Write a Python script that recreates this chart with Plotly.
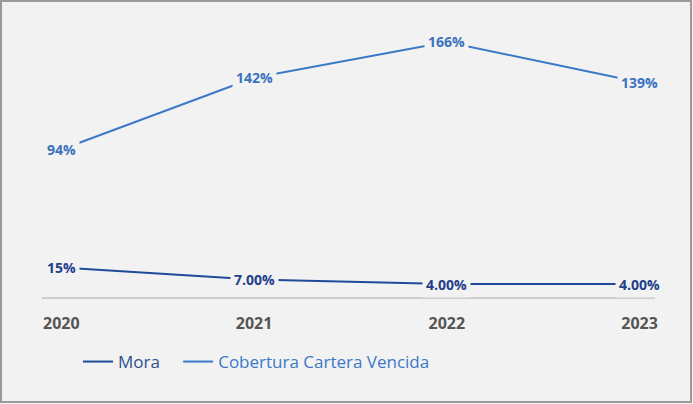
import plotly.graph_objects as go

years = ["2020", "2021", "2022", "2023"]
mora = [15, 7, 4, 4]
mora_labels = ["15%", "7.00%", "4.00%", "4.00%"]
cobertura = [94, 142, 166, 139]
cobertura_labels = ["94%", "142%", "166%", "139%"]

C_MORA = "#1f4a9a"
C_COB = "#3b78c8"
BG = "#f2f2f2"
FONT = "Open Sans"

W, H = 693, 404
L, R, T, B = 42, 38, 20, 106
pw, ph = W - L - R, H - T - B

xs = list(range(len(years)))

fig = go.Figure()
fig.add_trace(go.Scatter(x=xs, y=mora, mode="lines",
                         name="<span style='color:#2f4f8f'>Mora</span>&nbsp;&nbsp;&nbsp;",
                         line=dict(color=C_MORA, width=2)))
fig.add_trace(go.Scatter(x=xs, y=cobertura, mode="lines",
                         name=f"<span style='color:{C_COB}'>Cobertura Cartera Vencida</span>",
                         line=dict(color=C_COB, width=2)))

for xi, v, lab in zip(xs, mora, mora_labels):
    fig.add_annotation(x=xi, y=v, text=f"<b>{lab}</b>", showarrow=False,
                       font=dict(family=FONT, size=14, color="#23408a"),
                       bgcolor=BG, borderpad=3, xanchor="center", yanchor="middle")
for xi, v, lab in zip(xs, cobertura, cobertura_labels):
    fig.add_annotation(x=xi, y=v, text=f"<b>{lab}</b>", showarrow=False,
                       font=dict(family=FONT, size=14, color="#3a72c0"),
                       bgcolor=BG, borderpad=3, xanchor="center", yanchor="middle")

def px_x(p):
    return (p - L) / pw
def px_y(p):
    return (H - B - p) / ph

fig.add_shape(type="rect", xref="paper", yref="paper",
              x0=px_x(1), x1=px_x(691), y0=px_y(402), y1=px_y(1),
              line=dict(color="#9a9a9a", width=2), layer="below")

fig.update_layout(
    width=W, height=H,
    margin=dict(l=L, r=R, t=T, b=B),
    paper_bgcolor=BG, plot_bgcolor=BG,
    font=dict(family=FONT, size=14, color="#555555"),
    showlegend=True,
    legend=dict(orientation="h", x=px_x(78), y=px_y(362), xanchor="left", yanchor="middle",
                font=dict(family=FONT, size=17), bgcolor="rgba(0,0,0,0)",
                itemwidth=30, tracegroupgap=0),
)
fig.update_xaxes(range=[-0.1, 3.08], tickmode="array", tickvals=xs,
                 ticktext=[f"<b>{y}</b>" for y in years],
                 showgrid=False, zeroline=False, showline=False,
                 tickfont=dict(family=FONT, size=16, color="#555555"),
                 ticks="", ticklen=0, ticklabelstandoff=14)
fig.update_yaxes(range=[-5.35, 180.7], showgrid=False, zeroline=False,
                 showticklabels=False, showline=False)
fig.add_shape(type="line", xref="paper", yref="paper", x0=0, x1=1, y0=0, y1=0,
              line=dict(color="#cccccc", width=2))

fig.write_html("out.html", config={"displayModeBar": False},
               post_script="document.body.style.margin='0';document.body.style.overflow='hidden';")
